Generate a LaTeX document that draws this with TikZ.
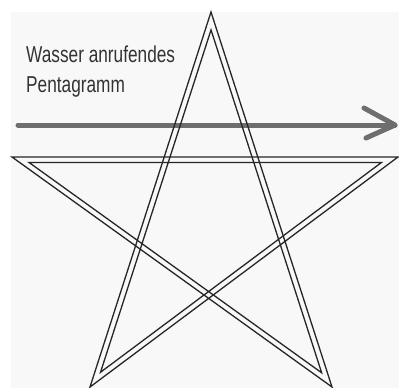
\documentclass[tikz,border=0pt]{standalone}
\usepackage{fontspec}
\setmainfont{Liberation Sans}
\usetikzlibrary{calc}
\definecolor{arrowgrey}{HTML}{6E6E6E}
\definecolor{textgrey}{HTML}{333333}
\definecolor{bggrey}{HTML}{F8F8F8}
\tikzset{
  starline/.style={draw=black!85, line width=1.3pt, line join=miter, miter limit=20},
  arrowline/.style={draw=arrowgrey, line width=5pt, line cap=round, line join=round},
  label/.style={text=textgrey, font=\fontsize{23}{28}\selectfont, inner sep=0pt, anchor=base west}
}
\newcommand{\gap}{5.5pt}
\begin{document}
\begin{tikzpicture}[x=1pt,y=-1pt]
\useasboundingbox (0,0) rectangle (399,388);
\fill[white] (0,0) rectangle (399,388);
\fill[bggrey] (11,12) rectangle (399,388);
% text
\node[label] (t1) at (26,62) {\scalebox{0.75}[1]{Wasser anrufendes}};
\node[label] (t2) at (26,92) {\scalebox{0.75}[1]{Pentagramm}};
% arrow
\coordinate (a0) at (18,125);
\coordinate (a1) at (395,125);
\coordinate (h1) at (364,108);
\coordinate (h2) at (366,138);
\draw[arrowline] (a0) -- (a1);
\draw[arrowline] (h1) -- (a1) -- (h2);
% outer tips
\coordinate (T) at (211,12);
\coordinate (L) at (12,157);
\coordinate (R) at (398,157);
\coordinate (BL) at (90,387);
\coordinate (BR) at (332,387);
% shifted edges
\coordinate (e1a) at ($(T)!\gap!90:(BL)$);
\coordinate (e1b) at ($(BL)!\gap!-90:(T)$);
\coordinate (e2a) at ($(BL)!\gap!90:(R)$);
\coordinate (e2b) at ($(R)!\gap!-90:(BL)$);
\coordinate (e3a) at ($(R)!\gap!90:(L)$);
\coordinate (e3b) at ($(L)!\gap!-90:(R)$);
\coordinate (e4a) at ($(L)!\gap!90:(BR)$);
\coordinate (e4b) at ($(BR)!\gap!-90:(L)$);
\coordinate (e5a) at ($(BR)!\gap!90:(T)$);
\coordinate (e5b) at ($(T)!\gap!-90:(BR)$);
\coordinate (iT) at (intersection of e5a--e5b and e1a--e1b);
\coordinate (iBL) at (intersection of e1a--e1b and e2a--e2b);
\coordinate (iR) at (intersection of e2a--e2b and e3a--e3b);
\coordinate (iL) at (intersection of e3a--e3b and e4a--e4b);
\coordinate (iBR) at (intersection of e4a--e4b and e5a--e5b);
% star
\draw[starline] (T) -- (BL) -- (R) -- (L) -- (BR) -- cycle;
\draw[starline] (iT) -- (iBL) -- (iR) -- (iL) -- (iBR) -- cycle;
\end{tikzpicture}
\end{document}
